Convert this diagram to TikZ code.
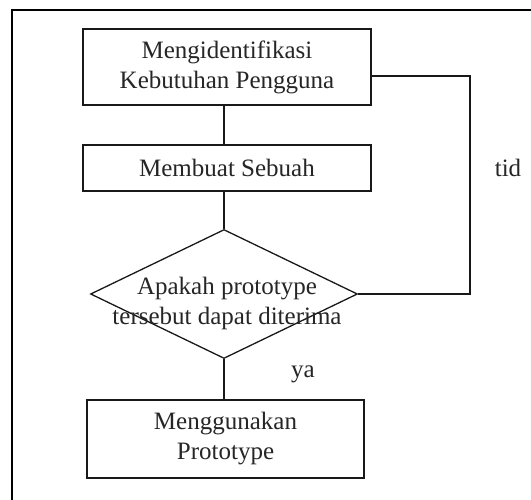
\documentclass[tikz,border=0pt]{standalone}
\usepackage{fontspec}
\setmainfont{Liberation Serif}
\usetikzlibrary{shapes.geometric}
\begin{document}
\begin{tikzpicture}[x=1pt,y=-1pt,
  every node/.style={text=black!85, font=\fontsize{25}{30}\selectfont},
  box/.style={draw=black!90, line width=1.3pt, rectangle, inner sep=0pt, align=center},
  dia/.style={draw=black!90, line width=1.3pt, diamond, inner sep=0pt, minimum width=267pt, minimum height=129pt},
  conn/.style={draw=black!90, line width=1.3pt},
  lbl/.style={inner sep=0pt}]
\useasboundingbox (0,0) rectangle (531,500);
\fill[white] (0,0) rectangle (531,500);
\begin{scope}
\clip (0,0) rectangle (531,500);
\draw[line width=2pt] (12,520) -- (12,10) -- (560,10);
\end{scope}
\node[box, minimum width=288pt, minimum height=76pt] (b1) at (227,67) {Mengidentifikasi\\Kebutuhan Pengguna};
\node[box, minimum width=288pt, minimum height=46pt] (b2) at (227,168) {Membuat Sebuah};
\node[dia] (d) at (224,294) {};
\node[lbl, align=center] (dt) at (227,303) {Apakah prototype\\tersebut dapat diterima};
\node[box, minimum width=277pt, minimum height=78pt] (b4) at (225.5,439) {Menggunakan\\Prototype};
\node[lbl] (tid) at (508,168) {tid};
\node[lbl] (ya) at (303,374) {ya};
\coordinate (r1) at (470,76);
\coordinate (r2) at (470,294);
\draw[conn] (b1.south -| d.north) -- (b2.north -| d.north);
\draw[conn] (b2.south -| d.north) -- (d.north);
\draw[conn] (d.south) -- (b4.north -| d.south);
\draw[conn] ([yshift=-9pt]b1.east) -- (r1) -- (r2) -- (d.east);
\end{tikzpicture}
\end{document}
